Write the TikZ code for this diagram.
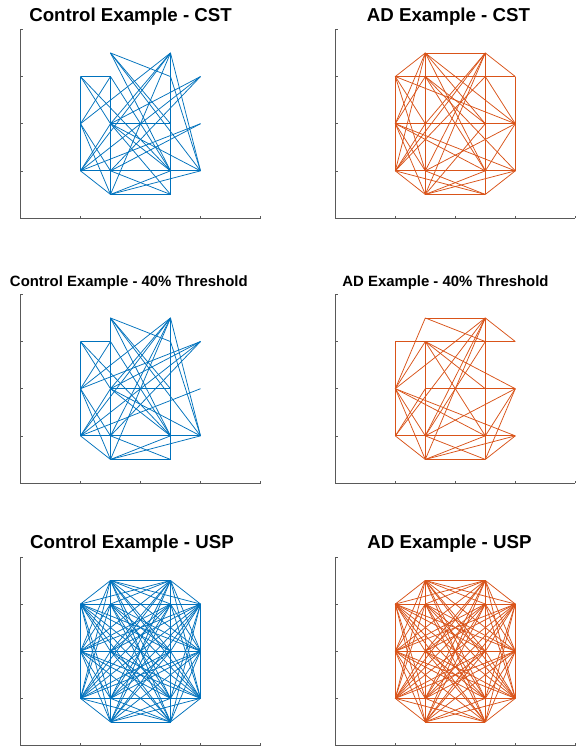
\documentclass[tikz,border=0pt]{standalone}
\usepackage{fontspec}
\setmainfont{Liberation Sans}
\definecolor{mblue}{HTML}{0072BD}
\definecolor{morange}{HTML}{D95319}
\tikzset{
  axisline/.style={draw=black!65, line width=0.6bp},
  edgeline/.style={line width=0.75bp},
  bigtitle/.style={font=\fontsize{18.7bp}{22bp}\selectfont\bfseries, anchor=base, inner sep=0pt},
  smalltitle/.style={font=\fontsize{14.9bp}{18bp}\selectfont\bfseries, anchor=base, inner sep=0pt},
}
\newcommand\nodelist{T1,T2,A1,A2,A3,A4,B1,B2,B3,B4,C1,C2,C3,C4,D1,D2}
\newcommand\mkpanel[3]{%
 \begin{scope}[shift={(#2,#3)}, x={(60bp,0bp)}, y={(0bp,47.15bp)}]
  \draw[axisline] (0,4) -- (0,0) -- (4,0);
  \foreach \t in {1,2,3,4} {\draw[axisline] (\t,0) -- ++(0,2.5bp); \draw[axisline] (0,\t) -- ++(2.5bp,0);}
  \coordinate (#1T1) at (1.5,3.5);
  \coordinate (#1T2) at (2.5,3.5);
  \coordinate (#1A1) at (1,3);
  \coordinate (#1A2) at (1.5,3);
  \coordinate (#1A3) at (2.5,3);
  \coordinate (#1A4) at (3,3);
  \coordinate (#1B1) at (1,2);
  \coordinate (#1B2) at (1.5,2);
  \coordinate (#1B3) at (2.5,2);
  \coordinate (#1B4) at (3,2);
  \coordinate (#1C1) at (1,1);
  \coordinate (#1C2) at (1.5,1);
  \coordinate (#1C3) at (2.5,1);
  \coordinate (#1C4) at (3,1);
  \coordinate (#1D1) at (1.5,0.5);
  \coordinate (#1D2) at (2.5,0.5);
 \end{scope}}
\newcommand\edgeset[3]{\foreach \a/\b in {#3} {\draw[edgeline,#2] (#1\a) -- (#1\b);}}
\newcommand\fullgraph[2]{%
  \foreach \a [count=\i] in \nodelist {%
    \foreach \b [count=\j] in \nodelist {%
      \ifnum\j>\i \draw[edgeline,#2] (#1\a) -- (#1\b);\fi}}}
\begin{document}
\begin{tikzpicture}[x=1bp,y=-1bp]
\useasboundingbox (0,0) rectangle (580,747);
\fill[white] (0,0) rectangle (580,747);
% titles
\node[bigtitle] (t1) at (130.6,21.5) {Control Example - CST};
\node[bigtitle] (t2) at (448.5,21.5) {AD Example - CST};
\node[smalltitle] (t3) at (128.8,286.7) {Control Example - 40\% Threshold};
\node[smalltitle] (t4) at (445.5,286.7) {AD Example - 40\% Threshold};
\node[bigtitle] (t5) at (132,548.3) {Control Example - USP};
\node[bigtitle] (t6) at (449.5,548.3) {AD Example - USP};
% panels
\mkpanel{c}{20.5}{218}
\mkpanel{a}{335.3}{218}
\mkpanel{d}{20.5}{483}
\mkpanel{b}{335.3}{483}
\mkpanel{u}{20.5}{745.5}
\mkpanel{v}{335.3}{745.5}
% Control CST
\edgeset{c}{mblue}{A1/A2, A1/B1, B1/C1, A2/B2, B2/C2, C2/D1, T2/A3, A3/B3, B3/C3, C3/D2, B2/B3, C1/C2, C2/C3, C3/C4, D1/D2,
A1/B2, A2/B1, B1/C2, B2/C1, C1/D1, B1/D1, A1/C3,
T1/A3, T1/B3, T1/C3, T1/C4,
T2/B2, T2/B1, T2/C1, T2/D1, T2/C4,
A4/B2, A4/C2, A4/C1,
B4/C1, B4/C2,
D1/C3, D1/C4, C2/D2,
B2/C3, B2/C4, B2/D2,
A2/C3, A3/C4}
% AD CST
\edgeset{a}{morange}{T1/T2, T1/A1, T2/A4, C1/D1, C4/D2, D1/D2,
A1/B1, B1/C1, A4/B4, B4/C4, T1/A2, A2/B2, B2/C2, C2/D1, T2/A3, A3/B3, B3/C3, C3/D2,
A1/A2, A2/A3, A3/A4, B1/B2, B2/B3, B3/B4, C1/C2, C2/C3, C3/C4,
T1/B1, T1/C1, T1/B3, T1/C3, T1/B4,
T2/C1, T2/C2, T2/D1, T2/B2,
A1/B2, A1/B4, A1/C2,
A2/B1, A2/C3, A2/C4, A2/B3,
B1/C2, B1/C3, B1/C4, B1/D1,
B4/C2, B4/A3, B4/C3,
C1/B2, C1/A3,
D1/C3, D1/C4, D1/B3,
D2/C2, D2/C1}
% Control 40%
\edgeset{d}{mblue}{T1/A2, A1/A2, A1/B1, B1/C1, A2/B2, B2/C2, C2/D1, T2/A3, A3/B3, B3/C3, C3/D2, B2/B3, C1/C2, C2/C3, C3/C4, D1/D2,
A1/B2, A2/B1, B1/C2, B2/C1, C1/D1, B1/D1,
T1/A3, T1/B3, T1/C3, T1/C4,
T2/B2, T2/B1, T2/C1, T2/D1, T2/C4, T2/C2,
A4/B2, A4/C2, A4/C1, A4/B1,
B4/C1,
D1/C3, D1/C4, C2/D2,
B2/C3, B2/C4,
A2/C3, A3/C4, A1/C3}
% AD 40%
\edgeset{b}{morange}{T1/T2, T2/A4, A1/A2, A2/A3, A3/A4, A1/B1, B1/C1, A2/B2, B2/C2, C2/D1, T2/A3, A3/B3, B3/C3, C3/D2, B2/B3, B3/B4, C1/C2, C2/C3, C3/C4, D1/D2, C1/D1, C4/D2,
T1/A3, T1/B1, A2/B4,
T2/B1, T2/C1, T2/C2, T2/D1,
A2/B1, A2/B3, A2/C3,
A3/C2,
B1/C2, B1/C3, B1/C4, B1/D1,
B2/C1,
B4/C2, B4/C3, B4/D2,
D1/C3, D1/C4, C2/D2}
% USP
\fullgraph{u}{mblue}
\fullgraph{v}{morange}
\end{tikzpicture}
\end{document}
